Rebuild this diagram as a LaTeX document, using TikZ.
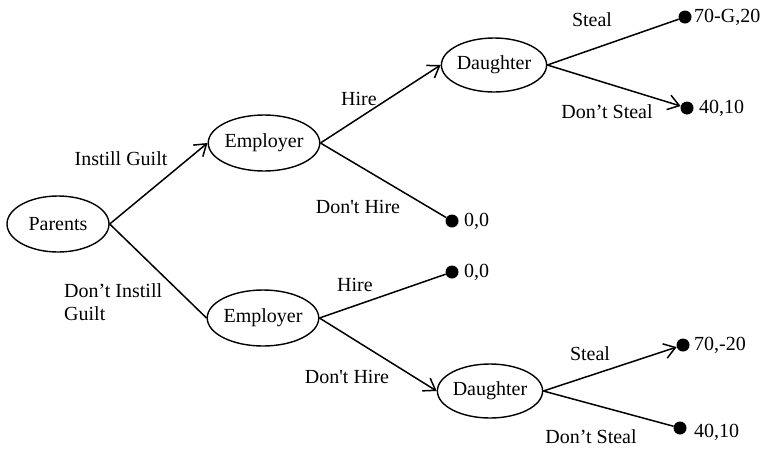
\documentclass[tikz,border=0pt]{standalone}
\usepackage{fontspec}
\setmainfont{Liberation Serif}[Ligatures=TeXOff]
\usetikzlibrary{shapes.geometric,arrows.meta}
\begin{document}
\begin{tikzpicture}[x=1pt,y=-1pt,
  every node/.style={font=\fontsize{20}{23}\selectfont},
  player/.style={ellipse,draw,line width=1.4pt,inner sep=0pt,minimum width=102pt,minimum height=56pt},
  leaf/.style={circle,fill,inner sep=0pt,minimum size=13pt},
  branch/.style={line width=1.5pt},
  chosen/.style={branch,-{Straight Barb[length=11pt,width=15pt,line width=1.5pt]}},
  lbl/.style={inner sep=0pt},
  pay/.style={anchor=west,inner sep=0pt}]
\useasboundingbox (0,0) rectangle (766,448);

% decision nodes
\node[player] (par) at (58,224) {Parents};
\node[player] (emp1) at (264,143) {Employer};
\node[player] (emp2) at (263,318) {Employer};
\node[player, minimum width=104pt, minimum height=54pt] (dau1) at (494,65) {Daughter};
\node[player, minimum width=102pt, minimum height=54pt] (dau2) at (490,391) {Daughter};

% terminal nodes
\node[leaf] (t1) at (685,17) {};
\node[leaf] (t2) at (687,108) {};
\node[leaf] (t3) at (452,221) {};
\node[leaf] (t4) at (452,272) {};
\node[leaf] (t5) at (683,345) {};
\node[leaf] (t6) at (680,428) {};

% branches
\draw[chosen] (par.east) -- (emp1.west);
\draw[branch] (par.east) -- (emp2.west);
\draw[chosen] (emp1.east) -- (dau1.west);
\draw[branch] (emp1.east) -- (t3);
\draw[branch] (dau1.east) -- (t1);
\draw[chosen] (dau1.east) -- (t2);
\draw[branch] (emp2.east) -- (t4);
\draw[chosen] (emp2.east) -- (dau2.west);
\draw[chosen] (dau2.east) -- (t5);
\draw[branch] (dau2.east) -- (t6);

% action labels
\node[lbl] (l1) at (121,159) {Instill Guilt};
\node[lbl, anchor=west, align=left] (l2) at (64,302) {Don’t Instill\\Guilt};
\node[lbl] (l3) at (359,99) {Hire};
\node[lbl] (l4) at (358,207) {Don't Hire};
\node[lbl] (l5) at (592,20) {Steal};
\node[lbl] (l6) at (607,112) {Don’t Steal};
\node[lbl] (l7) at (355,285) {Hire};
\node[lbl] (l8) at (347,377) {Don't Hire};
\node[lbl] (l9) at (590,354) {Steal};
\node[lbl] (l10) at (591,437) {Don’t Steal};

% payoffs
\node[pay] (p1) at (694,17) {70-G,20};
\node[pay] (p2) at (699,108) {40,10};
\node[pay] (p3) at (464,221) {0,0};
\node[pay] (p4) at (464,272) {0,0};
\node[pay] (p5) at (694,345) {70,-20};
\node[pay] (p6) at (694,432) {40,10};
\end{tikzpicture}
\end{document}
